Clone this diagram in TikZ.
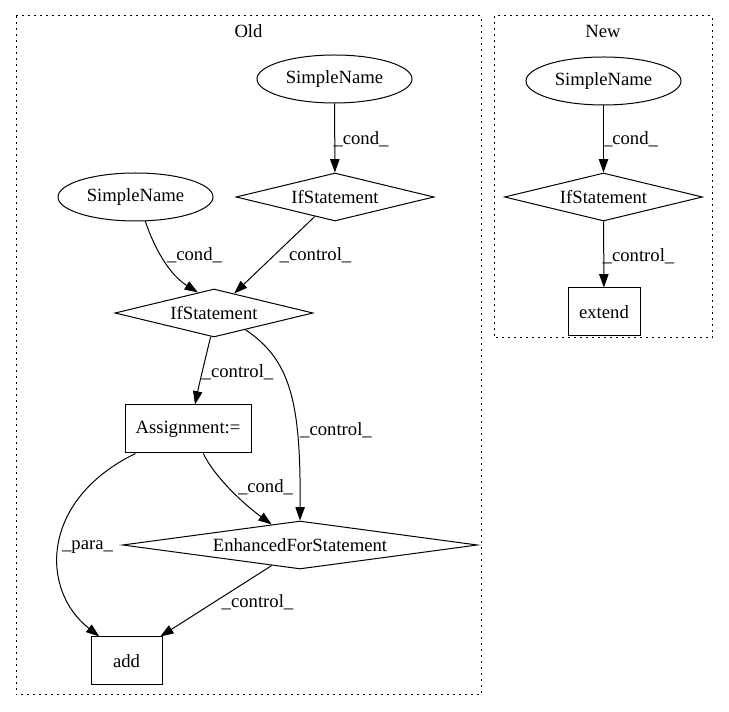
\documentclass[tikz,border=0pt]{standalone}
\usepackage{fontspec}
\setmainfont{Liberation Serif}
\usetikzlibrary{shapes.geometric,arrows.meta}
\begin{document}
\begin{tikzpicture}[x=0.75pt,y=-0.75pt,
  every node/.style={font=\fontsize{14pt}{16pt}\selectfont, inner sep=0pt},
  ell/.style={draw, ellipse, line width=0.75pt, minimum width=116.25pt, minimum height=36pt},
  dia/.style={draw, diamond, line width=0.75pt, minimum width=148.5pt, minimum height=36pt, aspect=4.1},
  bigdia/.style={draw, diamond, line width=0.75pt, minimum width=266.25pt, minimum height=36pt, aspect=7.4},
  box/.style={draw, rectangle, line width=0.75pt, minimum height=36pt},
  cluster/.style={draw, line width=0.75pt, dash pattern=on 1.5pt off 3pt},
  edge/.style={draw, line width=0.75pt, -{Triangle[length=10pt,width=7pt]}},
  lbl/.style={}
]
\useasboundingbox (0,0) rectangle (729,712);
% clusters
\draw[cluster] (16,16) rectangle (481,695);
\draw[cluster] (494,16) rectangle (712,338);
\node (oldlbl) at (248.5,31) {Old};
\node (newlbl) at (603,31) {New};
% Old nodes
\node[ell] (sn1) at (334.5,79) {SimpleName};
\node[dia] (if1) at (335,197) {IfStatement};
\node[ell] (sn2) at (135.5,197) {SimpleName};
\node[dia] (if2) at (214,313) {IfStatement};
\node[box, minimum width=94.5pt] (asg) at (188,429) {Assignment:=};
\node[bigdia] (efs) at (300,545) {EnhancedForStatement};
\node[box, minimum width=53.25pt] (add) at (126.5,661) {add};
% New nodes
\node[ell] (sn3) at (603.5,81) {SimpleName};
\node[dia] (if3) at (603.5,197) {IfStatement};
\node[box, minimum width=54pt] (ext) at (604,312) {extend};
% Old edges
\draw[edge] (sn1) -- (if1);
\node[lbl] (l1) at (361,139) {\_cond\_};
\draw[edge] (sn2.-68) .. controls (155,250) and (170,275) .. (if2.128);
\node[lbl] (l2) at (194.5,255) {\_cond\_};
\draw[edge] (if1.-136) -- (if2.44);
\node[lbl] (l3) at (315.5,255) {\_control\_};
\draw[edge] (if2.-98) .. controls (205,360) and (199,385) .. (asg.74);
\node[lbl] (l4) at (237.5,372) {\_control\_};
\draw[edge] (if2.-28) .. controls (290,360) and (301,400) .. (efs.north);
\node[lbl] (l5) at (336,430) {\_control\_};
\draw[edge] (asg.-58) .. controls (215,478) and (245,505) .. (efs.144);
\node[lbl] (l6) at (265.5,487) {\_cond\_};
\draw[edge] (asg.-155) .. controls (40,500) and (40,590) .. (add.138);
\node[lbl] (l7) at (87.5,547) {\_para\_};
\draw[edge] (efs.-144) -- (add.36);
\node[lbl] (l8) at (257.5,602) {\_control\_};
% New edges
\draw[edge] (sn3) -- (if3);
\node[lbl] (l9) at (630.5,139) {\_cond\_};
\draw[edge] (if3) -- (ext);
\node[lbl] (l10) at (638.5,256) {\_control\_};
\end{tikzpicture}
\end{document}
